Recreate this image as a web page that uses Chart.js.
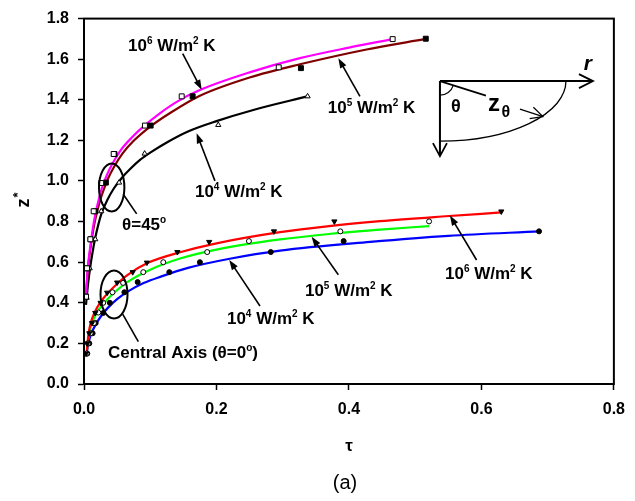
<!DOCTYPE html>
<html>
<head>
<meta charset="utf-8">
<script src="https://cdn.jsdelivr.net/npm/chart.js@4.4.0/dist/chart.umd.min.js"></script>
<style>
  body { margin: 0; background: #fff; }
  canvas { display: block; }
</style>
</head>
<body>
<canvas id="zChart" width="635" height="501"></canvas>
<script>
// tick labels
const tauTicks = ["0.0", "0.2", "0.4", "0.6", "0.8"];
const zTicks = ["0.0", "0.2", "0.4", "0.6", "0.8", "1.0", "1.2", "1.4", "1.6", "1.8"];

// theta = 45 deg, fitted lines [tau, z*]
const line45_h6 = [[0.003,0.44],[0.006,0.58],[0.0096,0.68],[0.0135,0.77],[0.017,0.835],[0.022,0.905],[0.027,0.965],[0.034,1.025],[0.042,1.08],[0.055,1.15],[0.0725,1.215],[0.092,1.275],[0.113,1.33],[0.14,1.39],[0.175,1.448],[0.25,1.535],[0.326,1.605],[0.4,1.657],[0.466,1.699]];
const line45_h5 = [[0.003,0.435],[0.006,0.57],[0.0098,0.67],[0.014,0.76],[0.018,0.825],[0.023,0.89],[0.029,0.95],[0.036,1.01],[0.045,1.068],[0.058,1.135],[0.075,1.198],[0.1,1.268],[0.13,1.335],[0.175,1.42],[0.25,1.51],[0.326,1.575],[0.4267,1.648],[0.516,1.70]];
const line45_h4 = [[0.003,0.39],[0.006,0.49],[0.0096,0.58],[0.013,0.65],[0.017,0.72],[0.022,0.79],[0.027,0.845],[0.035,0.905],[0.045,0.963],[0.057,1.015],[0.07,1.06],[0.085,1.105],[0.1,1.14],[0.125,1.19],[0.157,1.244],[0.2,1.295],[0.2556,1.35],[0.3376,1.417]];

// theta = 45 deg, data points
const pts45_h6 = [[0.003,0.43],[0.0045,0.57],[0.0096,0.713],[0.0146,0.851],[0.026,0.99],[0.0448,1.133],[0.092,1.273],[0.1475,1.417],[0.294,1.56],[0.466,1.699]];
const pts45_h5 = [[0.003,0.43],[0.005,0.57],[0.01,0.713],[0.017,0.851],[0.033,0.992],[0.046,1.133],[0.1006,1.273],[0.164,1.417],[0.3275,1.556],[0.516,1.701]];
const pts45_h4 = [[0.004,0.425],[0.0086,0.57],[0.017,0.713],[0.026,0.851],[0.053,0.992],[0.0916,1.135],[0.2027,1.276],[0.3376,1.417]];

// central axis (theta = 0), fitted lines
const line0_h6 = [[0.004,0.15],[0.006,0.225],[0.008,0.27],[0.011,0.31],[0.015,0.345],[0.02,0.378],[0.0287,0.42],[0.045,0.478],[0.066,0.538],[0.0966,0.597],[0.145,0.649],[0.2,0.693],[0.296,0.748],[0.37,0.778],[0.447,0.802],[0.54,0.825],[0.63,0.845]];
const line0_h5 = [[0.004,0.15],[0.006,0.215],[0.008,0.252],[0.011,0.29],[0.015,0.322],[0.021,0.36],[0.03,0.398],[0.041,0.436],[0.066,0.503],[0.1,0.563],[0.145,0.618],[0.2,0.662],[0.296,0.712],[0.37,0.739],[0.447,0.760],[0.521,0.778]];
const line0_h4 = [[0.004,0.15],[0.006,0.19],[0.01,0.24],[0.0186,0.298],[0.027,0.34],[0.036,0.375],[0.05,0.418],[0.066,0.455],[0.09,0.497],[0.117,0.53],[0.157,0.572],[0.22,0.617],[0.296,0.657],[0.432,0.70],[0.55,0.73],[0.688,0.752]];

// central axis, data points
const pts0_h6 = [[0.003,0.15],[0.005,0.2],[0.008,0.25],[0.012,0.3],[0.017,0.35],[0.025,0.4],[0.035,0.45],[0.05,0.5],[0.0735,0.551],[0.095,0.598],[0.141,0.65],[0.189,0.70],[0.2868,0.752],[0.378,0.801],[0.63,0.85]];
const pts0_h5 = [[0.004,0.15],[0.006,0.2],[0.01,0.25],[0.015,0.3],[0.0216,0.352],[0.029,0.4],[0.043,0.452],[0.059,0.498],[0.0895,0.551],[0.1197,0.6],[0.186,0.65],[0.249,0.704],[0.387,0.752],[0.521,0.801]];
const pts0_h4 = [[0.005,0.15],[0.008,0.2],[0.013,0.25],[0.0176,0.3],[0.029,0.35],[0.039,0.4],[0.061,0.452],[0.081,0.502],[0.1288,0.551],[0.175,0.6],[0.282,0.65],[0.392,0.704],[0.687,0.752]];

const FONT = "Arial, 'Liberation Sans', sans-serif";

function xy(arr) {
  return arr.map(p => ({ x: p[0], y: p[1] }));
}

function fitLine(arr, color) {
  return {
    data: xy(arr),
    showLine: true,
    borderColor: color,
    borderWidth: 2.2,
    pointRadius: 0,
    cubicInterpolationMode: "monotone",
    order: 2
  };
}

function marks(arr, style, filled, radius, rotation) {
  return {
    data: xy(arr),
    showLine: false,
    pointStyle: style,
    pointRotation: rotation || 0,
    pointRadius: radius,
    pointBorderWidth: 1,
    pointBorderColor: "#000",
    pointBackgroundColor: filled ? "#000" : "#fff",
    order: 1
  };
}

// text with superscripts: parts = [[text, isSup], ...]
function richText(ctx, x, y, parts, size) {
  let cx = x;
  parts.forEach(p => {
    const sup = p[1];
    ctx.font = "bold " + (sup ? Math.round(size * 0.6) : size) + "px " + FONT;
    ctx.fillText(p[0], cx, sup ? y - size * 0.42 : y);
    cx += ctx.measureText(p[0]).width;
  });
}

function arrow(ctx, x1, y1, x2, y2) {
  const a = Math.atan2(y2 - y1, x2 - x1);
  const len = 10, w = 3.5;
  ctx.beginPath();
  ctx.moveTo(x1, y1);
  ctx.lineTo(x2 - Math.cos(a) * len * 0.8, y2 - Math.sin(a) * len * 0.8);
  ctx.stroke();
  ctx.beginPath();
  ctx.moveTo(x2, y2);
  ctx.lineTo(x2 - Math.cos(a) * len - Math.sin(a) * w, y2 - Math.sin(a) * len + Math.cos(a) * w);
  ctx.lineTo(x2 - Math.cos(a) * len + Math.sin(a) * w, y2 - Math.sin(a) * len - Math.cos(a) * w);
  ctx.closePath();
  ctx.fill();
}

function chevron(ctx, x, y, ang, back, half) {
  ctx.beginPath();
  ctx.moveTo(x - Math.cos(ang) * back - Math.sin(ang) * half, y - Math.sin(ang) * back + Math.cos(ang) * half);
  ctx.lineTo(x, y);
  ctx.lineTo(x - Math.cos(ang) * back + Math.sin(ang) * half, y - Math.sin(ang) * back - Math.cos(ang) * half);
  ctx.stroke();
}

const hLabel = sup => [["10", false], [sup, true], [" W/m", false], ["2", true], [" K", false]];

// label anchors in data units: [tau, z*]
const notes = [
  { at: [0.0664, 1.639], parts: hLabel("6"), from: [0.149, 1.628], to: [0.1777, 1.449] },
  { at: [0.368, 1.333], parts: hLabel("5"), from: [0.4166, 1.417], to: [0.384, 1.605] },
  { at: [0.1675, 0.919], parts: hLabel("4"), from: [0.1977, 1.0005], to: [0.170, 1.235] },
  { at: [0.2158, 0.2967], parts: hLabel("4"), from: [0.2657, 0.384], to: [0.2193, 0.611] },
  { at: [0.3336, 0.433], parts: hLabel("5"), from: [0.384, 0.538], to: [0.3437, 0.725] },
  { at: [0.545, 0.5156], parts: hLabel("6"), from: [0.5927, 0.611], to: [0.5525, 0.830] }
];

const annot = {
  id: "annot",
  afterDraw(chart) {
    const ctx = chart.ctx;
    const sx = chart.scales.x, sy = chart.scales.y;
    const P = (t, z) => [sx.getPixelForValue(t), sy.getPixelForValue(z)];
    const ca = chart.chartArea;
    ctx.save();
    ctx.strokeStyle = "#000";
    ctx.fillStyle = "#000";

    // frame
    ctx.lineWidth = 2;
    ctx.strokeRect(ca.left, ca.top, ca.right - ca.left, ca.bottom - ca.top);

    ctx.textBaseline = "alphabetic";
    ctx.textAlign = "left";
    ctx.lineWidth = 1.6;
    notes.forEach(n => {
      const p = P(n.at[0], n.at[1]);
      richText(ctx, p[0], p[1], n.parts, 17);
      const a = P(n.from[0], n.from[1]), b = P(n.to[0], n.to[1]);
      arrow(ctx, a[0], a[1], b[0], b[1]);
    });

    // ellipses and their labels
    ctx.lineWidth = 2;
    let c = P(0.0418, 0.968);
    ctx.beginPath(); ctx.ellipse(c[0], c[1], 12.7, 24, 0, 0, Math.PI * 2); ctx.stroke();
    c = P(0.0453, 0.441);
    ctx.beginPath(); ctx.ellipse(c[0], c[1], 13.5, 24, 0, 0, Math.PI * 2); ctx.stroke();
    ctx.lineWidth = 1.6;
    let a = P(0.0593, 0.935), b = P(0.0795, 0.838);
    ctx.beginPath(); ctx.moveTo(a[0], a[1]); ctx.lineTo(b[0], b[1]); ctx.stroke();
    a = P(0.0584, 0.344); b = P(0.082, 0.209);
    ctx.beginPath(); ctx.moveTo(a[0], a[1]); ctx.lineTo(b[0], b[1]); ctx.stroke();
    let t = P(0.0574, 0.759);
    richText(ctx, t[0], t[1], [["\u03b8=45", false], ["o", true]], 17);
    t = P(0.0362, 0.1265);
    richText(ctx, t[0], t[1], [["Central Axis (\u03b8=0", false], ["o", true], [")", false]], 17);

    // inset sketch
    const o = P(0.5374, 1.492);
    const ox = o[0], oy = o[1];
    ctx.lineWidth = 2;
    ctx.beginPath();
    ctx.moveTo(ox, oy); ctx.lineTo(ox + 153, oy);
    ctx.moveTo(ox, oy); ctx.lineTo(ox, oy + 75);
    ctx.stroke();
    ctx.lineWidth = 1.8;
    chevron(ctx, ox + 153, oy, 0, 14, 7);
    chevron(ctx, ox, oy + 75, Math.PI / 2, 13, 7);
    ctx.lineWidth = 1.3;
    ctx.beginPath(); ctx.ellipse(ox, oy, 126, 60, 0, 0, Math.PI / 2); ctx.stroke();
    ctx.lineWidth = 1.6;
    ctx.beginPath(); ctx.moveTo(ox, oy); ctx.lineTo(ox + 46, oy + 14.5); ctx.stroke();
    ctx.lineWidth = 1.2;
    ctx.beginPath(); ctx.arc(ox, oy, 14, Math.atan2(14.5, 46), Math.PI / 2); ctx.stroke();
    ctx.beginPath(); ctx.moveTo(ox + 80, oy + 28); ctx.lineTo(ox + 103, oy + 35.5); ctx.stroke();
    chevron(ctx, ox + 103, oy + 35.5, Math.atan2(7.5, 23), 12, 6);
    ctx.textAlign = "center";
    ctx.textBaseline = "middle";
    ctx.font = "bold 18px " + FONT;
    ctx.fillText("\u03b8", ox + 16, oy + 26);
    ctx.font = "bold 24px " + FONT;
    ctx.fillText("z", ox + 54, oy + 23);
    ctx.font = "bold 16px " + FONT;
    ctx.fillText("\u03b8", ox + 66, oy + 31);
    ctx.font = "italic bold 21px " + FONT;
    ctx.fillText("r", ox + 148, oy - 17);

    // axis titles
    ctx.font = "bold 17px " + FONT;
    ctx.fillText("\u03c4", (ca.left + ca.right) / 2, 446);
    ctx.font = "20px " + FONT;
    ctx.fillText("(a)", (ca.left + ca.right) / 2 - 4, 483);
    ctx.save();
    ctx.translate(24, 200);
    ctx.rotate(-Math.PI / 2);
    ctx.font = "bold 18px " + FONT;
    ctx.fillText("z", -3, 0);
    ctx.font = "bold 13px " + FONT;
    ctx.fillText("*", 5, -6);
    ctx.restore();

    ctx.restore();
  }
};

new Chart(document.getElementById("zChart"), {
  type: "scatter",
  data: {
    datasets: [
      fitLine(line45_h6, "#ff00ff"),
      fitLine(line45_h5, "#800000"),
      fitLine(line45_h4, "#000000"),
      fitLine(line0_h6, "#ff0000"),
      fitLine(line0_h5, "#00ff00"),
      fitLine(line0_h4, "#0000ff"),
      marks(pts45_h6, "rect", false, 3.5),
      marks(pts45_h5, "rect", true, 3.5),
      marks(pts45_h4, "triangle", false, 3),
      marks(pts0_h6, "triangle", true, 3, 180),
      marks(pts0_h5, "circle", false, 2.5),
      marks(pts0_h4, "circle", true, 2.5)
    ]
  },
  options: {
    responsive: false,
    animation: false,
    devicePixelRatio: 1,
    layout: { padding: { top: 14, right: 21, left: 0, bottom: 0 } },
    plugins: { legend: { display: false }, tooltip: { enabled: false } },
    scales: {
      x: {
        type: "linear",
        min: 0,
        max: 0.8,
        afterFit: s => { s.height = 117; },
        afterBuildTicks: s => { s.ticks = tauTicks.map(v => ({ value: parseFloat(v) })); },
        ticks: {
          callback: (v, i) => tauTicks[i],
          color: "#000",
          padding: 10,
          maxRotation: 0,
          font: { family: FONT, size: 16, weight: "bold" }
        },
        grid: { drawOnChartArea: false, drawTicks: true, tickLength: 6, color: "#000", tickWidth: 1.5 },
        border: { display: true, color: "#000", width: 2 }
      },
      y: {
        type: "linear",
        min: 0,
        max: 1.8,
        afterFit: s => { s.width = 84; },
        afterBuildTicks: s => { s.ticks = zTicks.map(v => ({ value: parseFloat(v) })); },
        ticks: {
          callback: (v, i) => zTicks[i],
          color: "#000",
          padding: 9,
          font: { family: FONT, size: 16, weight: "bold" }
        },
        grid: { drawOnChartArea: false, drawTicks: true, tickLength: 6, color: "#000", tickWidth: 1.5 },
        border: { display: true, color: "#000", width: 2 }
      }
    }
  },
  plugins: [annot]
});
</script>
</body>
</html>
